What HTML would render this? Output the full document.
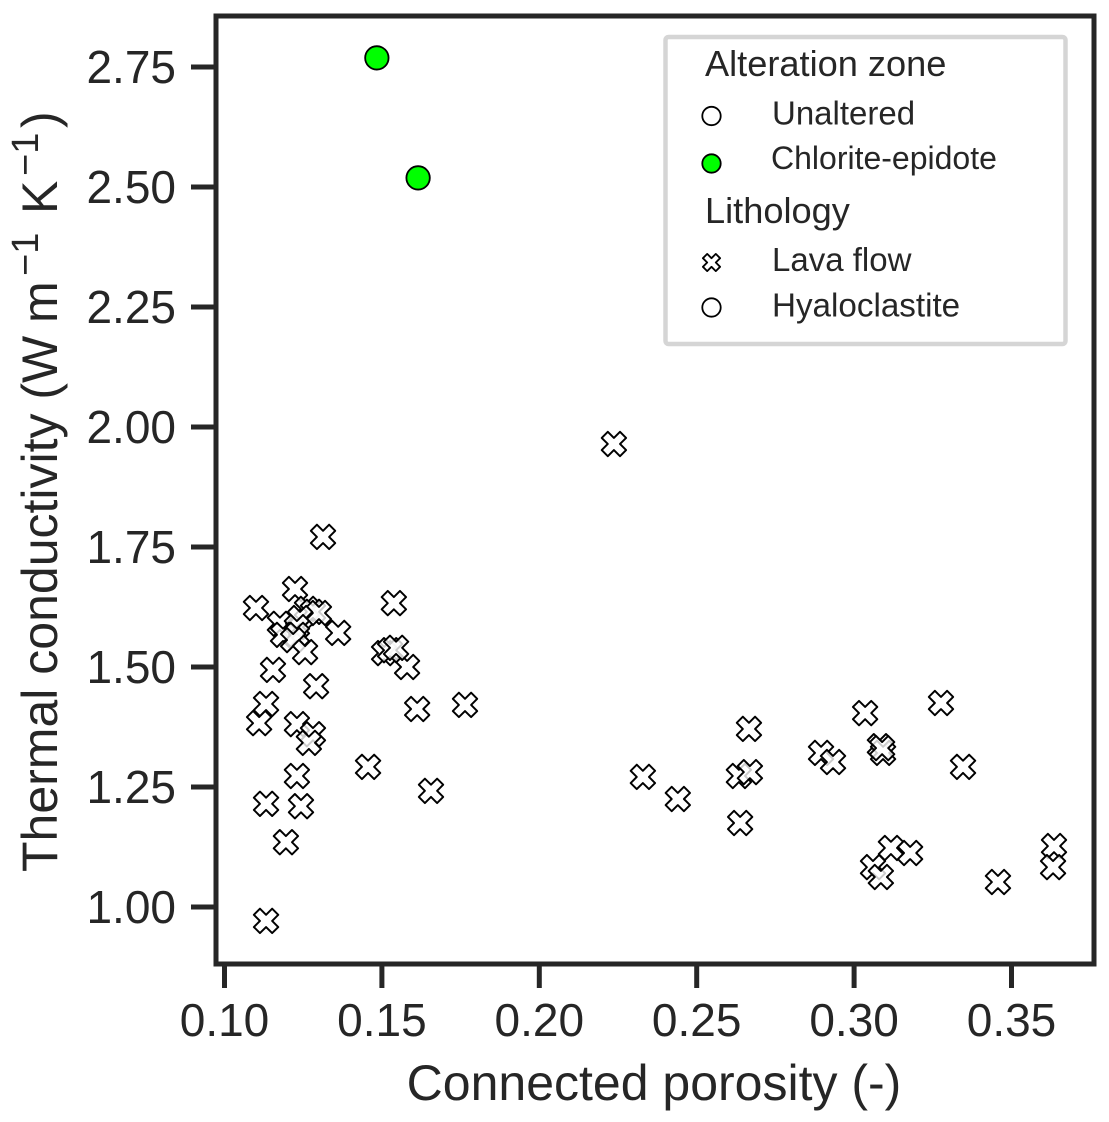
<!DOCTYPE html>
<html lang="en">
<head>
<meta charset="utf-8">
<title>Thermal conductivity vs connected porosity</title>
<style>
html,body{margin:0;padding:0;background:#fff;width:1109px;height:1122px;overflow:hidden}
svg{display:block}
text{font-family:"Liberation Sans",Arial,sans-serif;fill:#262626}
</style>
</head>
<body>
<svg id="chart" xmlns="http://www.w3.org/2000/svg" width="1109" height="1122" viewBox="0 0 1109 1122">
  <rect x="216" y="16" width="878" height="948" fill="#fff"/>
  <g id="lava-points"></g>
  <g id="chlorite-points"></g>
  <rect x="216" y="16" width="878" height="948" fill="none" stroke="#262626" stroke-width="5"/>
  <g id="x-ticks"></g>
  <g id="y-ticks"></g>
  <text x="654" y="1100" font-size="50" text-anchor="middle">Connected porosity (-)</text>
  <text transform="translate(57,872) rotate(-90)" font-size="50">Thermal conductivity (W <tspan x="549">m</tspan><tspan x="596" y="-19" font-size="38">−1</tspan><tspan x="658" y="0">K</tspan><tspan x="696" y="-19" font-size="38">−1</tspan><tspan x="744" y="0">)</tspan></text>
  <g>
    <rect x="665.5" y="37" width="400" height="307" rx="3" fill="#fff" stroke="#d5d5d5" stroke-width="4.5"/>
    <text x="705" y="76" font-size="36.2">Alteration zone</text>
    <circle cx="711.5" cy="116" r="9.2" fill="#fff" stroke="#000" stroke-width="1.8"/>
    <text x="772" y="124.5" font-size="33">Unaltered</text>
    <circle cx="711.5" cy="163.5" r="9.2" fill="#00ff00" stroke="#000" stroke-width="1.8"/>
    <text x="771" y="169" font-size="32">Chlorite-epidote</text>
    <text x="705" y="223" font-size="36.2">Lithology</text>
    <polygon transform="translate(711.5,262.5) scale(4.3)" points="-1,-2 0,-1 1,-2 2,-1 1,0 2,1 1,2 0,1 -1,2 -2,1 -1,0 -2,-1" fill="#fff" stroke="#000" stroke-width="0.42" stroke-linejoin="round"/>
    <text x="772" y="271" font-size="33">Lava flow</text>
    <circle cx="711.5" cy="307.5" r="9.2" fill="#fff" stroke="#000" stroke-width="1.8"/>
    <text x="772" y="316.5" font-size="33.2">Hyaloclastite</text>
  </g>
</svg>
<script>
var xTicks = [0.10, 0.15, 0.20, 0.25, 0.30, 0.35];
var yTicks = [1.00, 1.25, 1.50, 1.75, 2.00, 2.25, 2.50, 2.75];
var lavaPorosity = [0.1313,0.1224,0.1100,0.1538,0.1262,0.1281,0.1300,0.1240,0.1176,0.1230,0.1186,0.1230,0.1218,0.1256,0.1361,0.1154,0.1291,0.1132,0.1110,0.1230,0.1281,0.1268,0.1456,0.1230,0.1132,0.1243,0.1195,0.1132,0.1656,0.1612,0.1764,0.1580,0.1507,0.1526,0.1545,0.2237,0.2329,0.2440,0.2638,0.2634,0.2669,0.2666,0.3035,0.3276,0.2895,0.2933,0.3082,0.3092,0.3089,0.3346,0.3117,0.3178,0.3060,0.3085,0.3457,0.3635,0.3632];
var lavaConductivity = [1.771,1.6625,1.623,1.633,1.621,1.615,1.6125,1.602,1.590,1.583,1.567,1.567,1.556,1.531,1.571,1.494,1.460,1.423,1.383,1.381,1.360,1.342,1.292,1.273,1.215,1.210,1.135,0.971,1.242,1.4125,1.421,1.500,1.529,1.535,1.540,1.9646,1.271,1.225,1.175,1.273,1.281,1.371,1.404,1.425,1.321,1.302,1.335,1.321,1.331,1.292,1.123,1.1125,1.083,1.0625,1.052,1.127,1.083];
var chloritePorosity = [0.1484,0.1615];
var chloriteConductivity = [2.769,2.519];

var NS = 'http://www.w3.org/2000/svg';
function xScale(v){ return 224.5 + (v - 0.10) * 3148; }
function yScale(v){ return 907 - (v - 1.00) * 480; }
function make(tag, parent){
  var el = document.createElementNS(NS, tag);
  parent.appendChild(el);
  return el;
}
var lavaGroup = document.getElementById('lava-points');
lavaPorosity.forEach(function(p, i){
  var el = make('polygon', lavaGroup);
  
  
  el.setAttribute('points', '-1,-2 0,-1 1,-2 2,-1 1,0 2,1 1,2 0,1 -1,2 -2,1 -1,0 -2,-1');
  el.setAttribute('transform', 'translate(' + xScale(p) + ',' + yScale(lavaConductivity[i]) + ') scale(6.1)');
  el.setAttribute('fill', '#fff');
  el.setAttribute('fill-opacity', '0.8');
  el.setAttribute('stroke', '#000');
  el.setAttribute('stroke-width', '0.32');
  el.setAttribute('stroke-linejoin', 'round');
});
var chloriteGroup = document.getElementById('chlorite-points');
chloritePorosity.forEach(function(p, i){
  var el = make('circle', chloriteGroup);
  
  
  el.setAttribute('cx', xScale(p));
  el.setAttribute('cy', yScale(chloriteConductivity[i]));
  el.setAttribute('r', '11.7');
  el.setAttribute('fill', '#00ff00');
  el.setAttribute('stroke', '#000');
  el.setAttribute('stroke-width', '1.8');
});
var xTickGroup = document.getElementById('x-ticks');
xTicks.forEach(function(t){
  var x = xScale(t);
  var line = make('line', xTickGroup);
  
  
  line.setAttribute('x1', x); line.setAttribute('x2', x);
  line.setAttribute('y1', 964); line.setAttribute('y2', 988);
  line.setAttribute('stroke', '#262626');
  line.setAttribute('stroke-width', '5');
  var label = make('text', xTickGroup);
  
  
  label.setAttribute('x', x);
  label.setAttribute('y', 1036);
  label.setAttribute('font-size', '46');
  label.setAttribute('text-anchor', 'middle');
  label.textContent = t.toFixed(2);
});
var yTickGroup = document.getElementById('y-ticks');
yTicks.forEach(function(t){
  var y = yScale(t);
  var line = make('line', yTickGroup);
  
  
  line.setAttribute('x1', 191); line.setAttribute('x2', 216);
  line.setAttribute('y1', y); line.setAttribute('y2', y);
  line.setAttribute('stroke', '#262626');
  line.setAttribute('stroke-width', '5');
  var label = make('text', yTickGroup);
  
  
  label.setAttribute('x', 176);
  label.setAttribute('y', y + 16);
  label.setAttribute('font-size', '46');
  label.setAttribute('text-anchor', 'end');
  label.textContent = t.toFixed(2);
});
</script>
</body>
</html>
